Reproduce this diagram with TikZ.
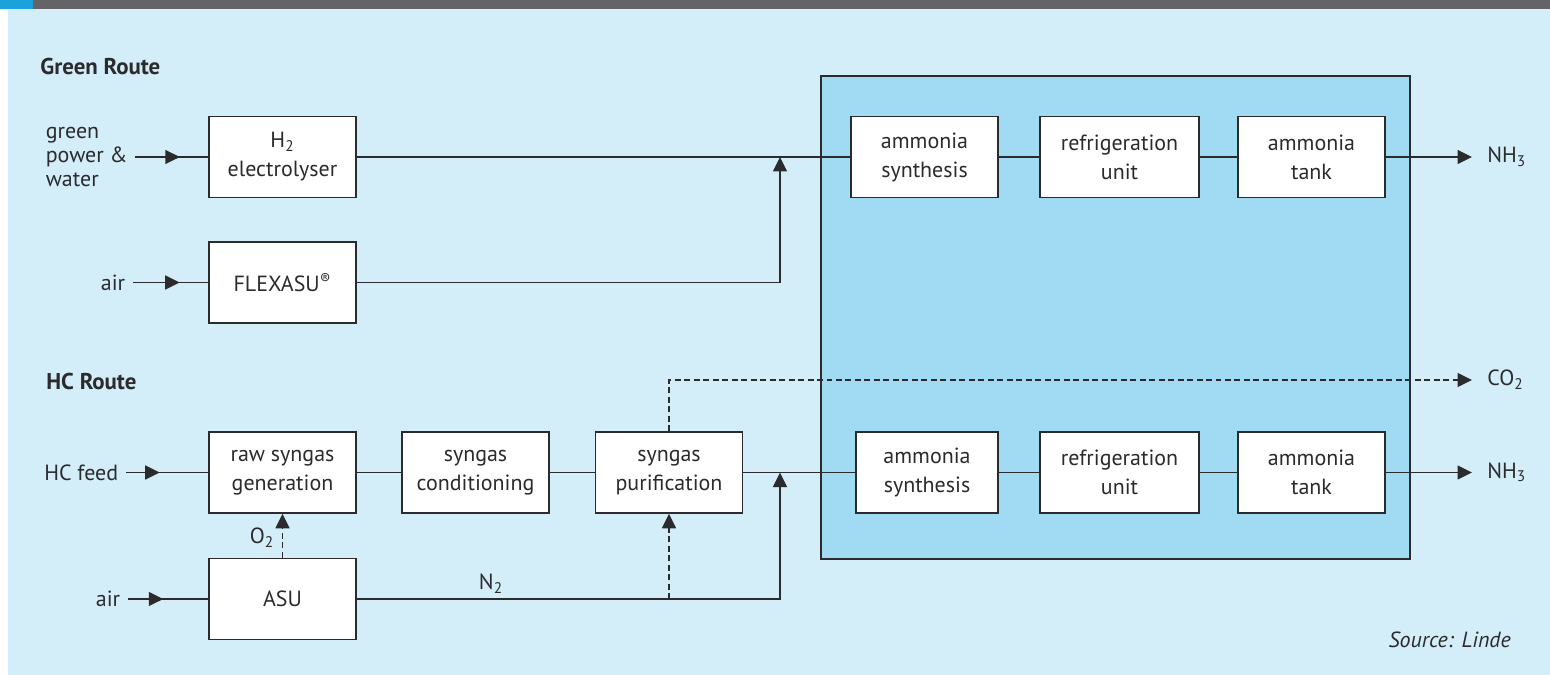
\documentclass[tikz,border=0pt]{standalone}
\usepackage{fontspec}
\setmainfont{PT Sans}
\usetikzlibrary{arrows.meta,positioning,decorations.markings}
\definecolor{bgblue}{HTML}{D3EDF9}
\definecolor{boxblue}{HTML}{A0DBF3}
\definecolor{bandgray}{HTML}{646466}
\definecolor{accent}{HTML}{1BA1DB}
\definecolor{ink}{HTML}{2B2B2D}

\begin{document}
\begin{tikzpicture}[x=0.02cm,y=-0.02cm]
\tikzset{
  unit/.style={draw=ink,line width=0.9pt,fill=white,minimum width=2.94cm,minimum height=1.62cm,align=center,inner sep=1pt,text=ink,font=\fontsize{12.5}{16.5}\selectfont},
  wideunit/.style={unit,minimum width=3.18cm},
  wire/.style={draw=ink,line width=0.8pt},
  flow/.style={wire,-{Triangle[length=0.29cm,width=0.28cm]}},
  dashflow/.style={flow,dash pattern=on 3.4pt off 2pt},
  midarrow/.style={wire,postaction={decorate},decoration={markings,mark=at position #1 with {\arrow{Triangle[length=0.29cm,width=0.28cm]}}}},
  inlabel/.style={inner xsep=0.15cm,text=ink,font=\fontsize{12.5}{13.8}\selectfont},
  outlabel/.style={anchor=west,inner xsep=0.3cm,text=ink,font=\fontsize{12.5}{14}\selectfont},
  heading/.style={anchor=west,inner sep=0pt,text=ink,font=\fontsize{13}{15}\selectfont\bfseries}
}
\useasboundingbox (0,0) rectangle (1550,675);
% background
\fill[white] (0,0) rectangle (1550,675);
\fill[bgblue] (8,9) rectangle (1550,675);
\fill[bandgray] (0,0) rectangle (1550,9);
\fill[accent] (0,0) rectangle (33,9);
\draw[wire,fill=boxblue,line width=0.9pt] (821,76) rectangle (1410,559);

% green route
\node[heading] (green) at (40,67) {Green Route};
\node[unit] (h2el) at (282.5,157) {H\textsubscript{2}\\electrolyser};
\node[unit] (flexasu) at (282.5,282.5) {FLEXASU\textsuperscript{®}};
\node[unit] (synA) at (924.5,157) {ammonia\\synthesis};
\node[wideunit] (refA) at (1119.5,157) {refrigeration\\unit};
\node[unit] (tankA) at (1311.5,157) {ammonia\\tank};
\node[inlabel,anchor=west,align=left] (inPower) at (38,157) {green\\power \&\\water};
\node[inlabel,anchor=east] (inAirA) at (133,282.5) {air};
\node[outlabel] (nh3A) at (1472,157) {NH\textsubscript{3}};
\coordinate (jA) at (780,157);

\draw[midarrow=0.61] (inPower.east) -- (h2el.west);
\draw[midarrow=0.62] (inAirA.east) -- (flexasu.west);
\draw[wire] (h2el) -- (synA);
\draw[flow] (flexasu.east) -| (jA);
\draw[wire] (synA) -- (refA);
\draw[wire] (refA) -- (tankA);
\draw[flow] (tankA) -- (nh3A);

% HC route
\node[heading] (hc) at (46,382) {HC Route};
\node[unit] (rawsg) at (282.5,472.5) {raw syngas\\generation};
\node[unit] (condsg) at (475.5,472.5) {syngas\\conditioning};
\node[unit] (pursg) at (669,472.5) {syngas\\purification};
\node[unit,minimum width=2.84cm] (synB) at (927,472.5) {ammonia\\synthesis};
\node[wideunit] (refB) at (1119.5,472.5) {refrigeration\\unit};
\node[unit] (tankB) at (1311.5,472.5) {ammonia\\tank};
\node[unit] (asu) at (282.5,599) {ASU};
\node[inlabel,anchor=east] (inFeed) at (126,472.5) {HC feed};
\node[inlabel,anchor=east] (inAirB) at (128,599) {air};
\node[outlabel] (co2) at (1472,380) {CO\textsubscript{2}};
\node[outlabel] (nh3B) at (1472,472.5) {NH\textsubscript{3}};
\node[text=ink,font=\fontsize{12.5}{14}\selectfont] (o2) at (262,538) {O\textsubscript{2}};
\node[text=ink,font=\fontsize{12.5}{14}\selectfont] (n2) at (491,584) {N\textsubscript{2}};
\coordinate (jB) at (780,472.5);
\coordinate (nBranch) at (pursg.south |- asu.east);

\draw[midarrow=0.41] (inFeed.east) -- (rawsg.west);
\draw[midarrow=0.44] (inAirB.east) -- (asu.west);
\draw[wire] (rawsg) -- (condsg);
\draw[wire] (condsg) -- (pursg);
\draw[wire] (pursg) -- (synB);
\draw[wire] (synB) -- (refB);
\draw[wire] (refB) -- (tankB);
\draw[flow] (tankB) -- (nh3B);
\draw[dashflow] (pursg.north) |- (co2.west);
\draw[dashflow] (asu.north) -- (rawsg.south);
\draw[flow] (asu.east) -| (jB);
\draw[dashflow] (nBranch) -- (pursg.south);

\node[anchor=east,text=ink,font=\fontsize{12.5}{14}\selectfont\itshape] (source) at (1517,640) {Source: Linde};
\end{tikzpicture}
\end{document}
